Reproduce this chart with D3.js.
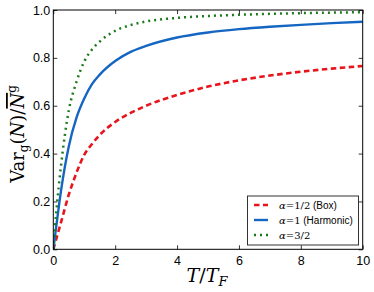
<!DOCTYPE html>
<html><head><meta charset="utf-8">
<script src="https://cdn.jsdelivr.net/npm/d3@7/dist/d3.min.js"></script>
<style>body{margin:0;background:#fff}svg{display:block}</style>
</head><body>
<script>
const T = [0, 0.1, 0.25, 0.5, 0.75, 1, 1.25, 1.5, 2, 2.5, 3, 4, 5, 6, 7, 8, 9, 10];
const boxVals = [0, 0.045, 0.113, 0.228, 0.32, 0.395, 0.44, 0.478, 0.532, 0.57, 0.60, 0.645, 0.68, 0.706, 0.726, 0.742, 0.755, 0.766];
const harmonicVals = [0, 0.10, 0.245, 0.43, 0.55, 0.63, 0.69, 0.73, 0.787, 0.825, 0.85, 0.885, 0.906, 0.92, 0.93, 0.938, 0.945, 0.951];
const a32Vals = [0, 0.16, 0.35, 0.58, 0.70, 0.785, 0.835, 0.868, 0.913, 0.937, 0.952, 0.967, 0.975, 0.98, 0.984, 0.987, 0.989, 0.991];
const xTicks = [0, 2, 4, 6, 8, 10];
const yTicks = [0.0, 0.2, 0.4, 0.6, 0.8, 1.0];
const seriesNames = ["=1/2", "=1", "=3/2"];
const seriesNotes = [" (Box)", " (Harmonic)", ""];

const W = 374, H = 292;
const m = {l: 53.3, r: 362.7, t: 10, b: 249.3};
const svg = d3.select("body").append("svg").attr("width", W).attr("height", H);
const x = d3.scaleLinear().domain([0, 10]).range([m.l, m.r]);
const y = d3.scaleLinear().domain([0, 1]).range([m.b, m.t]);

svg.append("defs").append("clipPath").attr("id", "clip")
  .append("rect").attr("x", m.l).attr("y", m.t).attr("width", m.r - m.l).attr("height", m.b - m.t);

const series = [
  {vals: boxVals, color: "#e8141b", dash: "5.5,3.5", w: 2.6},
  {vals: harmonicVals, color: "#1466c2", dash: null, w: 2.4},
  {vals: a32Vals, color: "#1b7a1b", dash: "2,4", w: 2.5}
];
const line = d3.line().x((d, i) => x(T[i])).y(d => y(d)).curve(d3.curveMonotoneX);
const g = svg.append("g").attr("clip-path", "url(#clip)");
series.forEach(s => {
  g.append("path").attr("d", line(s.vals)).attr("fill", "none")
    .attr("stroke", s.color).attr("stroke-width", s.w)
    .attr("stroke-dasharray", s.dash);
});

// axes with inward ticks
const tl = 4;
const xb = svg.append("g").attr("transform", `translate(0,${m.b})`)
  .call(d3.axisBottom(x).tickValues(xTicks).tickSizeInner(-tl).tickSizeOuter(0).tickPadding(6).tickFormat(d3.format("d")));
const xt = svg.append("g").attr("transform", `translate(0,${m.t})`)
  .call(d3.axisTop(x).tickValues(xTicks).tickSizeInner(-tl).tickSizeOuter(0).tickFormat(""));
const yl = svg.append("g").attr("transform", `translate(${m.l},0)`)
  .call(d3.axisLeft(y).tickValues(yTicks).tickSizeInner(-tl).tickSizeOuter(0).tickPadding(3).tickFormat(d3.format(".1f")));
const yr = svg.append("g").attr("transform", `translate(${m.r},0)`)
  .call(d3.axisRight(y).tickValues(yTicks).tickSizeInner(-tl).tickSizeOuter(0).tickFormat(""));
[xb, xt, yl, yr].forEach(a => {
  a.select(".domain").remove();
  a.selectAll(".tick line").attr("stroke", "#000").attr("stroke-width", 0.8);
  a.selectAll("text").attr("font-family", "Liberation Sans, Arial, sans-serif").attr("font-size", 12.5).attr("fill", "#000");
});
xb.selectAll("text").attr("dy", "0.8em");
svg.append("rect").attr("x", m.l).attr("y", m.t).attr("width", m.r - m.l).attr("height", m.b - m.t)
  .attr("fill", "none").attr("stroke", "#000").attr("stroke-width", 1);

// x label
const xlab = svg.append("text").attr("x", 207).attr("y", 282).attr("text-anchor", "middle")
  .attr("font-family", "DejaVu Serif, serif").attr("font-style", "italic").attr("font-size", 19);
xlab.append("tspan").text("T");
xlab.append("tspan").attr("font-style", "normal").text("/");
xlab.append("tspan").text("T");
xlab.append("tspan").attr("font-size", 13).attr("dy", 4).text("F");

// y label
const ylab = svg.append("text").attr("transform", "translate(24,134) rotate(-90)").attr("text-anchor", "middle")
  .attr("font-family", "DejaVu Serif, serif").attr("font-size", 18);
ylab.append("tspan").text("Var");
ylab.append("tspan").attr("font-size", 12).attr("dy", 4).text("g");
ylab.append("tspan").attr("dy", -4).text("(");
ylab.append("tspan").attr("font-style", "italic").text("N");
ylab.append("tspan").text(")/");
ylab.append("tspan").attr("font-style", "italic").attr("text-decoration", "overline").text("N");
ylab.append("tspan").attr("font-size", 12).attr("dy", -8).text("g");

// legend
const lg = svg.append("g");
lg.append("rect").attr("x", 247.5).attr("y", 196).attr("width", 111).attr("height", 49)
  .attr("fill", "#fff").attr("stroke", "#333").attr("stroke-width", 1);
series.forEach((s, i) => {
  const yy = 205 + i * 15;
  lg.append("line").attr("x1", 254).attr("x2", 268).attr("y1", yy).attr("y2", yy)
    .attr("stroke", s.color).attr("stroke-width", s.w).attr("stroke-dasharray", s.dash);
  const t = lg.append("text").attr("x", 279).attr("y", yy + 3.5)
    .attr("font-family", "Liberation Sans, Arial, sans-serif").attr("font-size", 10);
  t.append("tspan").attr("font-family", "DejaVu Serif, serif").attr("font-style", "italic").text("α");
  t.append("tspan").attr("font-family", "DejaVu Serif, serif").text(seriesNames[i]);
  t.append("tspan").text(seriesNotes[i]);
});
</script>
</body></html>
